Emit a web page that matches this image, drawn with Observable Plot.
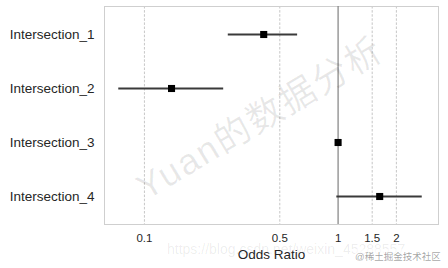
<!DOCTYPE html>
<html><head><meta charset="utf-8">
<script src="https://cdn.jsdelivr.net/npm/d3@7"></script>
<script src="https://cdn.jsdelivr.net/npm/@observablehq/plot@0.6"></script>
<style>
body{margin:0;background:#fff;}
#wrap{position:relative;width:448px;height:268px;overflow:hidden;}
.wm{position:absolute;white-space:nowrap;pointer-events:none;font-family:"Liberation Sans","Noto Sans CJK SC",sans-serif;}
</style></head><body>
<div id="wrap"></div>
<script>
const categories = ["Intersection_1","Intersection_2","Intersection_3","Intersection_4"];
const oddsRatio = [0.413, 0.138, 1.0, 1.64];
const ciLower = [0.271, 0.0737, 0.995, 0.985];
const ciUpper = [0.618, 0.2566, 1.005, 2.72];
const xTicks = [0.1, 0.5, 1, 1.5, 2];
const xTickLabels = ["0.1","0.5","1","1.5","2"];
const refValue = [1];

const data = categories.map((c,i)=>({cat:c, or:oddsRatio[i], lo:ciLower[i], hi:ciUpper[i]}));

const chart = Plot.plot({
  width:448, height:268,
  marginLeft:104, marginRight:10, marginTop:6, marginBottom:44,
  style:{fontFamily:"'Liberation Sans', Arial, sans-serif", color:"#262626", background:"white", overflow:"visible"},
  x:{type:"log", domain:[0.0622,3.3]},
  y:{type:"point", domain:categories, padding:0.5},
  marks:[
    Plot.ruleX(xTicks.filter(d=>d!==1), {stroke:"#b8b8b8", strokeWidth:0.8, strokeDasharray:"2.5,1.6"}),
    Plot.frame({stroke:"#cfcfcf", strokeWidth:1}),
    Plot.ruleX(refValue, {stroke:"#808080", strokeWidth:1.2}),
    Plot.ruleY(data, {y:"cat", x1:"lo", x2:"hi", stroke:"#3a3a3a", strokeWidth:2}),
    Plot.dot(data, {x:"or", y:"cat", symbol:"square", r:4, fill:"black", stroke:"none"}),
    Plot.axisX({ticks:xTicks, tickFormat:d=>xTickLabels[xTicks.indexOf(d)], tickSize:0, tickPadding:9, fontSize:11.5, label:null}),
    Plot.axisX({ticks:[], label:"Odds Ratio", labelAnchor:"center", labelArrow:"none", labelOffset:34, fontSize:13.5}),
    Plot.axisY({tickSize:0, tickPadding:10, fontSize:13.5, label:null})
  ]
});
const wrap = document.getElementById("wrap");
wrap.appendChild(chart);

const wm1 = document.createElement("div");
wm1.className="wm";
wm1.textContent="Yuan的数据分析";
wm1.style.cssText="left:258px;top:115px;font-size:36px;color:rgba(0,0,0,0.09);transform:translate(-50%,-50%) rotate(-31deg);letter-spacing:2px;";
wrap.appendChild(wm1);

const wm2 = document.createElement("div");
wm2.className="wm";
wm2.textContent="https://blog.csdn.net/weixin_45288557";
wm2.style.cssText="left:167px;top:241px;font-size:14px;color:rgba(0,0,0,0.08);";
wrap.appendChild(wm2);

const wm3 = document.createElement("div");
wm3.className="wm";
wm3.textContent="@稀土掘金技术社区";
wm3.style.cssText="left:355px;top:249px;font-size:9.5px;color:rgba(0,0,0,0.38);background:rgba(255,255,255,0.6);";
wrap.appendChild(wm3);
</script>
</body></html>
